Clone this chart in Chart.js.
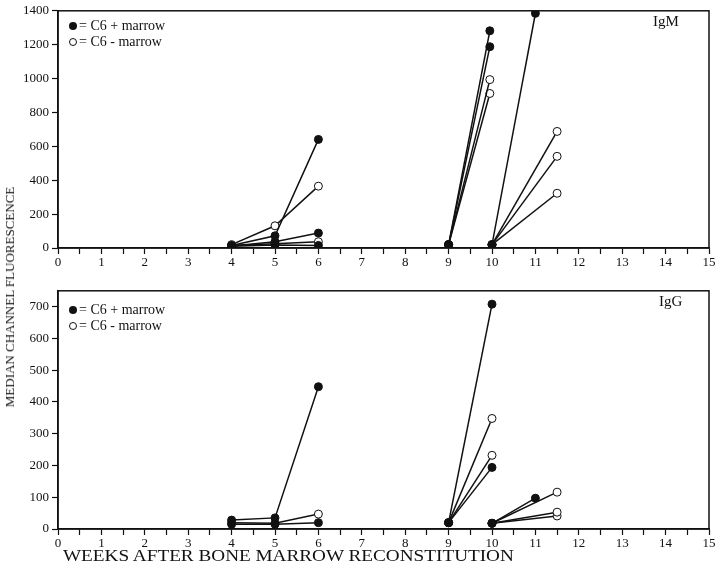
<!DOCTYPE html>
<html>
<head>
<meta charset="utf-8">
<script src="https://cdn.jsdelivr.net/npm/chart.js@4"></script>
<style>
  html, body { margin:0; padding:0; background:#fff; }
  body { width:720px; height:567px; position:relative; overflow:hidden; font-family:"Liberation Serif", serif; color:#111; }
  .box { position:absolute; left:0; width:720px; }
  .txt { position:absolute; white-space:nowrap; font-family:"Liberation Serif", serif; color:#111; }
  .legend { position:absolute; font-size:14px; line-height:16px; }
  .legend div { height:16px; display:flex; align-items:center; }
  .mk { display:inline-block; width:8px; height:8px; border-radius:50%; box-sizing:border-box; margin-right:2px; }
  .mk.f { background:#111; }
  .mk.o { background:#fff; border:1px solid #111; }
</style>
</head>
<body>
<div class="box" style="top:0;height:275px;"><canvas id="igm" width="720" height="275"></canvas></div>
<div class="box" style="top:280px;height:270px;"><canvas id="igg" width="720" height="270"></canvas></div>

<div class="legend" style="left:69px;top:18px;">
  <div><span class="mk f"></span>= C6 + marrow</div>
  <div><span class="mk o"></span>= C6 - marrow</div>
</div>
<div class="legend" style="left:69px;top:302px;">
  <div><span class="mk f"></span>= C6 + marrow</div>
  <div><span class="mk o"></span>= C6 - marrow</div>
</div>
<div class="txt" style="left:653px;top:13px;font-size:15px;">IgM</div>
<div class="txt" style="left:659px;top:293px;font-size:15px;">IgG</div>
<div class="txt" style="left:63px;top:547px;font-size:16px;transform-origin:0 50%;transform:scaleX(1.2);">WEEKS AFTER BONE MARROW RECONSTITUTION</div>
<div class="txt" style="left:10px;top:297px;font-size:13px;transform:translate(-50%,-50%) rotate(-90deg);">MEDIAN CHANNEL FLUORESCENCE</div>

<script>
// ---- Data (weeks after reconstitution, median channel fluorescence) ----
// IgM panel
const igmPlusWeeks  = [[4,5,6],[4,5,6],[4,5,6],[9,9.95],[9,9.95],[10,11]];
const igmPlusValues = [[15,72,641],[12,37,88],[10,18,15],[20,1282],[20,1188],[20,1385]];
const igmMinusWeeks  = [[4,5,6],[4,5,6],[9,9.95],[9,9.95],[10,11.5],[10,11.5],[10,11.5]];
const igmMinusValues = [[20,131,365],[15,25,37],[20,994],[20,912],[20,688],[20,541],[20,323]];
// IgG panel
const iggPlusWeeks  = [[4,5,6],[4,5,6],[9,10],[9,10],[10,11]];
const iggPlusValues = [[28,35,448],[15,15,20],[20,708],[20,194],[18,97]];
const iggMinusWeeks  = [[4,5,6],[9,10],[9,10],[10,11.5],[10,11.5],[10,11.5]];
const iggMinusValues = [[20,18,47],[20,348],[20,232],[18,116],[18,53],[18,41]];
// Axes
const xMin = 0, xMax = 15, xStep = 0.5;
const igmYMax = 1400, igmYStep = 200;
const iggYMax = 750,  iggYStep = 100;

const INK = '#111';
const FONT = { family: '"Liberation Serif", serif', size: 13 };

function makeSets(weeksArr, valsArr, filled) {
  return weeksArr.map((w, i) => ({
    data: w.map((x, j) => ({ x, y: valsArr[i][j] })),
    borderColor: INK,
    borderWidth: 1.5,
    pointRadius: 4,
    pointHoverRadius: 4,
    pointBackgroundColor: filled ? INK : '#fff',
    pointBorderColor: INK,
    pointBorderWidth: 1,
    fill: false,
    tension: 0
  }));
}

const framePlugin = {
  id: 'frame',
  afterDraw(chart) {
    const a = chart.chartArea, ctx = chart.ctx;
    ctx.save();
    ctx.strokeStyle = INK;
    ctx.lineWidth = 1.5;
    ctx.strokeRect(a.left, a.top, a.right - a.left, a.bottom - a.top);
    ctx.restore();
  }
};

function build(id, plusW, plusV, minusW, minusV, yMax, yStep, canvasH, chartBottom) {
  // filled datasets first so they sit on top of open markers at shared start points
  const datasets = makeSets(plusW, plusV, true).concat(makeSets(minusW, minusV, false));
  return new Chart(document.getElementById(id), {
    type: 'line',
    data: { datasets },
    plugins: [framePlugin],
    options: {
      responsive: false,
      animation: false,
      events: [],
      layout: { padding: { left: 0, right: 11, top: 10, bottom: 0 } },
      plugins: { legend: { display: false }, tooltip: { enabled: false }, title: { display: false } },
      scales: {
        x: {
          type: 'linear', min: xMin, max: xMax,
          afterFit(s) { s.height = canvasH - chartBottom; },
          border: { display: true, color: INK, width: 1.5 },
          grid: { display: true, drawOnChartArea: false, drawTicks: true, tickLength: 6, color: INK, tickWidth: 1.2 },
          ticks: {
            stepSize: xStep, autoSkip: false, maxRotation: 0, padding: 1, color: INK, font: FONT,
            callback: v => Number.isInteger(v) ? String(v) : ''
          }
        },
        y: {
          type: 'linear', min: 0, max: yMax,
          afterFit(s) { s.width = 58; },
          afterBuildTicks(s) { s.ticks = s.ticks.filter(t => t.value % yStep === 0); },
          border: { display: true, color: INK, width: 1.5 },
          grid: { display: true, drawOnChartArea: false, drawTicks: true, tickLength: 6, color: INK, tickWidth: 1.2 },
          ticks: { stepSize: yStep, padding: 3, color: INK, font: FONT, callback: v => String(v) }
        }
      }
    }
  });
}

build('igm', igmPlusWeeks, igmPlusValues, igmMinusWeeks, igmMinusValues, igmYMax, igmYStep, 275, 248);
build('igg', iggPlusWeeks, iggPlusValues, iggMinusWeeks, iggMinusValues, iggYMax, iggYStep, 270, 249);
</script>
</body>
</html>
